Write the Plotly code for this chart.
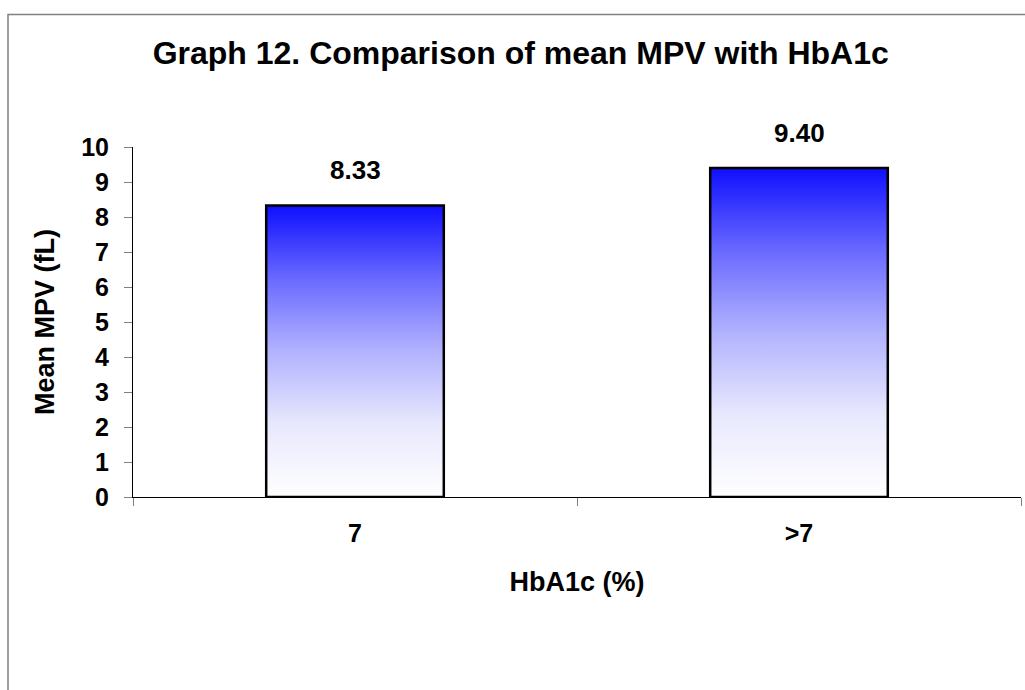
import plotly.graph_objects as go

# ---- data ----
categories = ["7", ">7"]
mean_mpv = [8.33, 9.40]
y_tick_values = [0, 1, 2, 3, 4, 5, 6, 7, 8, 9, 10]
chart_title = "Graph 12. Comparison of mean MPV with HbA1c"
x_title = "HbA1c (%)"
y_title = "Mean MPV (fL)"

# ---- style ----
FONT = "Liberation Sans, Arial, sans-serif"
BAR_WIDTH = 0.4
GRADIENT = [
    [0.0, "rgb(255,255,255)"],
    [0.25, "rgb(232,232,253)"],
    [0.5, "rgb(178,178,255)"],
    [0.75, "rgb(105,105,255)"],
    [1.0, "rgb(15,15,255)"],
]

x_pos = list(range(len(categories)))
boundaries = [i - 0.5 for i in range(len(categories) + 1)]

fig = go.Figure()
hw = BAR_WIDTH / 2
for xp, v in zip(x_pos, mean_mpv):
    fig.add_trace(go.Scatter(
        x=[xp - hw, xp - hw, xp + hw, xp + hw, xp - hw],
        y=[0, v, v, 0, 0],
        mode="lines",
        fill="toself",
        fillgradient=dict(type="vertical", colorscale=GRADIENT),
        line=dict(color="black", width=2.5),
        hoverinfo="skip",
        showlegend=False,
    ))

# invisible trace to carry the boundary-tick axis
fig.add_trace(go.Scatter(
    x=x_pos, y=mean_mpv, xaxis="x2", mode="markers",
    marker=dict(opacity=0), hoverinfo="skip", showlegend=False,
))

label_font = dict(family=FONT, size=26, color="black", weight="bold")
for xp, v in zip(x_pos, mean_mpv):
    fig.add_annotation(
        x=xp, y=v, text=f"{v:.2f}", showarrow=False, yshift=35,
        font=label_font,
    )

tick_font = dict(family=FONT, size=25, color="black", weight="bold")
title_font = dict(family=FONT, size=27, color="black", weight="bold")

fig.update_layout(
    width=1025, height=690,
    margin=dict(l=133, r=4, t=147, b=193, autoexpand=False),
    paper_bgcolor="white", plot_bgcolor="white",
    title=dict(
        text=chart_title, xref="container", x=0.508, xanchor="center",
        yref="container", y=1 - 53 / 690, yanchor="middle",
        font=dict(family=FONT, size=32, color="black", weight="bold"),
    ),
    xaxis=dict(
        range=[boundaries[0], boundaries[-1]],
        tickvals=x_pos, ticktext=categories, ticks="",
        showline=True, linecolor="black", linewidth=1,
        showgrid=False, zeroline=False, tickfont=tick_font,
        ticklabelstandoff=14,
        title=dict(text=x_title, font=title_font, standoff=26),
        automargin=False,
    ),
    xaxis2=dict(
        overlaying="x", matches="x", anchor="y", side="bottom",
        tickvals=boundaries, ticks="outside", ticklen=8, tickcolor="#808080",
        tickwidth=1, showticklabels=False, showline=False, showgrid=False,
        zeroline=False,
    ),
    yaxis=dict(
        range=[0, 10], tickvals=y_tick_values, ticks="outside", ticklen=8,
        tickcolor="#808080", tickwidth=1,
        showline=True, linecolor="black", linewidth=1,
        showgrid=False, zeroline=False, tickfont=tick_font,
        ticklabelstandoff=10,
        title=dict(text=y_title, font=title_font, standoff=18),
        automargin=False,
    ),
    shapes=[dict(
        type="rect", xref="paper", yref="paper",
        x0=(8 - 133) / 888, x1=1.2, y0=-1.0, y1=(497 - 14.5) / 350,
        line=dict(color="#808080", width=1.5), fillcolor="rgba(0,0,0,0)",
        layer="below",
    )],
)

fig.write_html("out.html")
